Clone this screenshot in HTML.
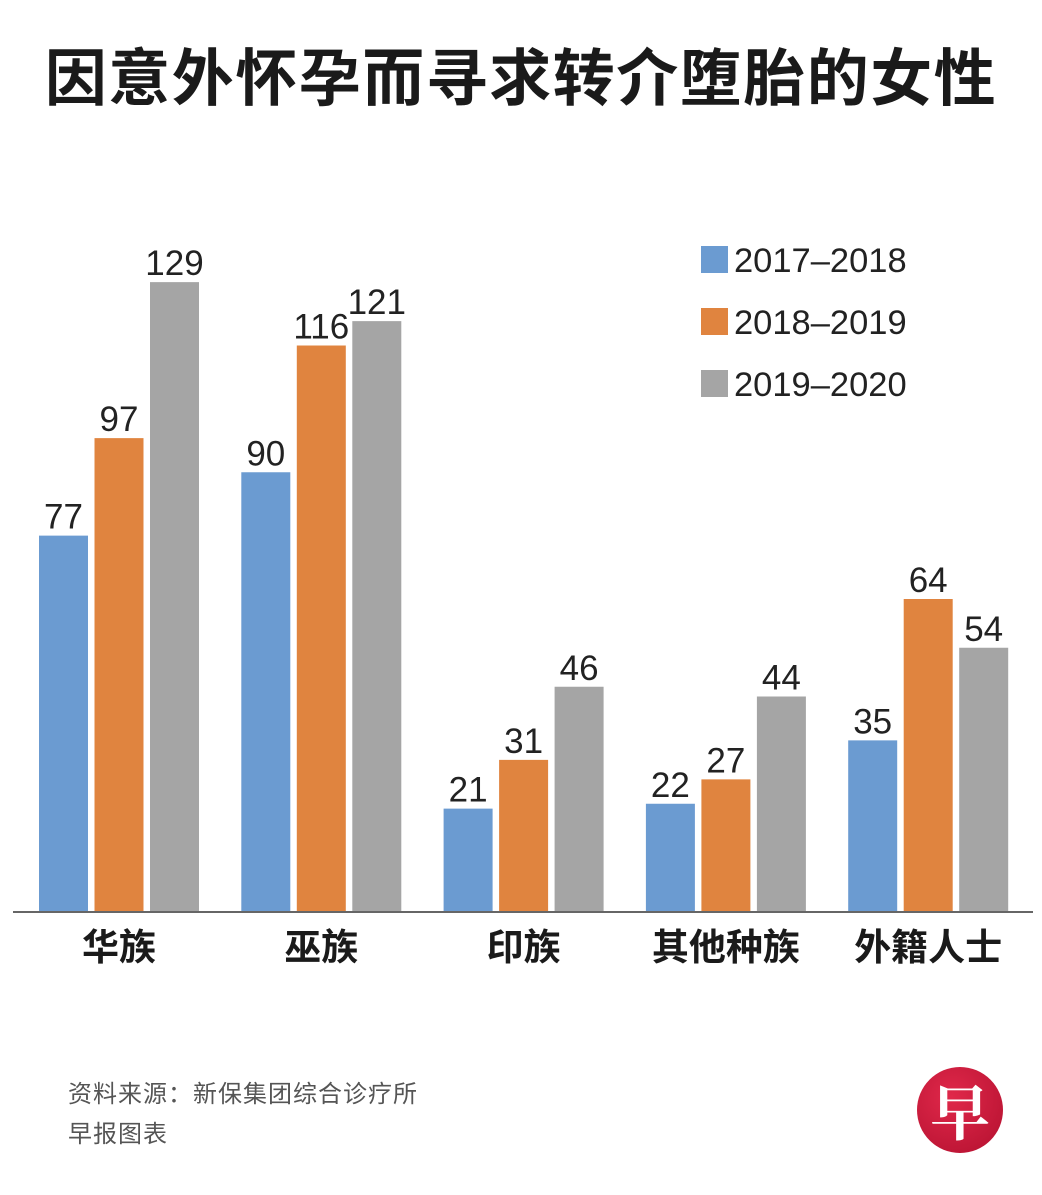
<!DOCTYPE html>
<html><head><meta charset="utf-8">
<style>
body{margin:0;background:#fff;}
#root{position:relative;width:1042px;height:1195px;overflow:hidden;background:#fff;font-family:"Liberation Sans","Noto Sans CJK SC",sans-serif;}
.title{position:absolute;left:0;width:1042px;top:40px;text-align:center;font-size:62px;font-weight:bold;color:#1a1a1a;letter-spacing:1.5px;line-height:80px;}
.foot{position:absolute;left:68px;font-size:24px;color:#555;letter-spacing:1px;}
</style></head>
<body>
<div id="root">
<div class="title">因意外怀孕而寻求转介堕胎的女性</div>
<svg id="chart" width="1042" height="1195" style="position:absolute;left:0;top:0"></svg>
<div class="foot" style="top:1074px">资料来源：新保集团综合诊疗所</div>
<div class="foot" style="top:1114px">早报图表</div>
<div style="position:absolute;left:917px;top:1067px;width:86px;height:86px;border-radius:50%;background:radial-gradient(circle at 40% 35%,#e0284a,#b3102f);color:#fff;font-size:60px;font-weight:bold;text-align:center;line-height:86px;font-family:'Noto Serif CJK SC',serif;">早</div>
</div>
<script>
const categories=["华族","巫族","印族","其他种族","外籍人士"];
const series1=[77,90,21,22,35];
const series2=[97,116,31,27,64];
const series3=[129,121,46,44,54];
const seriesNames=["2017–2018","2018–2019","2019–2020"];
const colors=["#6b9bd1","#e0843f","#a5a5a5"];
const NS="http://www.w3.org/2000/svg";
const svg=document.getElementById('chart');
const baseY=911, unit=4.875, groupX0=39, groupStep=202.3, barW=49, barStep=55.5;
function yS(v){return baseY-v*unit;}
function xS(ci,si){return groupX0+ci*groupStep+si*barStep;}
function mk(tag,attrs){const e=document.createElementNS(NS,tag);for(const k in attrs)e.setAttribute(k,attrs[k]);svg.appendChild(e);return e;}
const all=[series1,series2,series3];
all.forEach((s,si)=>{
  s.forEach((v,ci)=>{
    const r=mk('rect',{x:xS(ci,si),y:yS(v),width:barW,height:v*unit,fill:colors[si]});
    
    
    const t=mk('text',{x:xS(ci,si)+barW/2,y:yS(v)-7,'text-anchor':'middle','font-size':35,fill:'#222','font-family':'Liberation Sans, sans-serif'});
    t.textContent=v;
    
    
  });
});
const ax=mk('line',{x1:13,x2:1033,y1:baseY+1,y2:baseY+1,stroke:'#666','stroke-width':2});


categories.forEach((c,ci)=>{
  const t=mk('text',{x:xS(ci,1)+barW/2,y:960,'text-anchor':'middle','font-size':37,'font-weight':'bold',fill:'#1a1a1a','font-family':'Liberation Sans, Noto Sans CJK SC, sans-serif'});
  t.textContent=c;
  
  
});
seriesNames.forEach((n,si)=>{
  const y=246+si*62;
  const r=mk('rect',{x:701,y:y,width:27,height:27,fill:colors[si]});
  
  
  const t=mk('text',{x:734,y:y+26,'font-size':34.5,fill:'#222','font-family':'Liberation Sans, sans-serif'});
  t.textContent=n;
  
  
});
</script>
</body></html>
